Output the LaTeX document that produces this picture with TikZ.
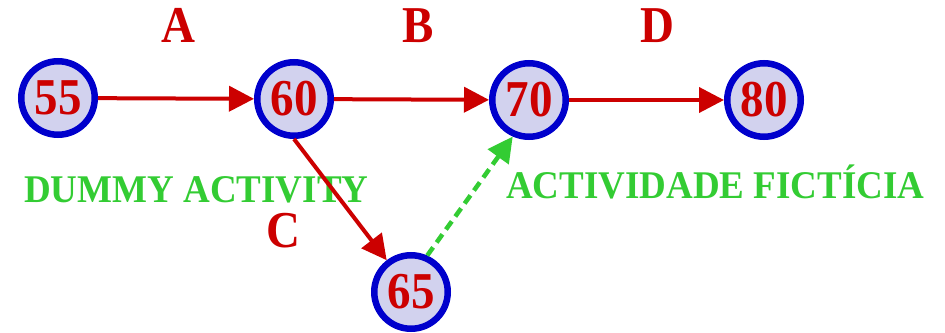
\documentclass[tikz,border=0pt]{standalone}
\usepackage{fontspec}
\usepackage{graphicx}
\setmainfont{Liberation Serif}
\usetikzlibrary{arrows.meta}
\definecolor{evred}{HTML}{CC0000}
\definecolor{evblue}{HTML}{0000CC}
\definecolor{evfill}{HTML}{D2D2EE}
\definecolor{dumgreen}{HTML}{33CC33}
% slightly tall lettering
\newcommand{\tallbig}[1]{\scalebox{1}[1.1]{#1}}
\newcommand{\tallsmall}[1]{\scalebox{1}[1.06]{#1}}
\begin{document}
\begin{tikzpicture}[x=1pt,y=-1pt,
  event/.style={circle, draw=evblue, line width=6.5pt, fill=evfill,
    minimum size=73.5pt, inner sep=0pt, text=evred,
    font=\fontsize{47}{47}\selectfont\bfseries},
  actlabel/.style={anchor=base, text=evred, inner sep=0pt,
    font=\fontsize{47}{47}\selectfont\bfseries},
  greenlabel/.style={anchor=base west, text=dumgreen, inner sep=0pt,
    font=\fontsize{37}{37}\selectfont\bfseries},
  activity/.style={draw=evred, line width=4pt,
    -{Triangle[length=25pt,width=25pt]}},
  dummy/.style={draw=dumgreen, line width=4.5pt, dash pattern=on 10pt off 6pt,
    -{Triangle[length=25pt,width=25pt]}}]
\useasboundingbox (0,0) rectangle (945,332);

% event nodes
\node[event] (n55) at (58,98) {\tallbig{55}};
\node[event] (n60) at (294,99) {\tallbig{60}};
\node[event] (n70) at (529,100) {\tallbig{70}};
\node[event] (n80) at (764,100) {\tallbig{80}};
\node[event] (n65) at (411,292) {\tallbig{65}};

% captions
\node[greenlabel] (dumEN) at (24,202) {\tallsmall{DUMMY ACTIVITY}};
\node[greenlabel] (dumPT) at (506,198) {\tallsmall{ACTIVIDADE FICTÍCIA}};

% activity letters
\node[actlabel] (lA) at (178,42) {\tallbig{A}};
\node[actlabel] (lB) at (418,42) {\tallbig{B}};
\node[actlabel] (lD) at (657,42) {\tallbig{D}};
\node[actlabel] (lC) at (283,247) {\tallbig{C}};

% activities
\draw[activity] (n55) -- (n60);
\draw[activity] (n60) -- (n70);
\draw[activity] (n70) -- (n80);
\draw[activity] (n60.south) -- (n65);
\draw[dummy] (n65.66) -- (n70.246);
\end{tikzpicture}
\end{document}
